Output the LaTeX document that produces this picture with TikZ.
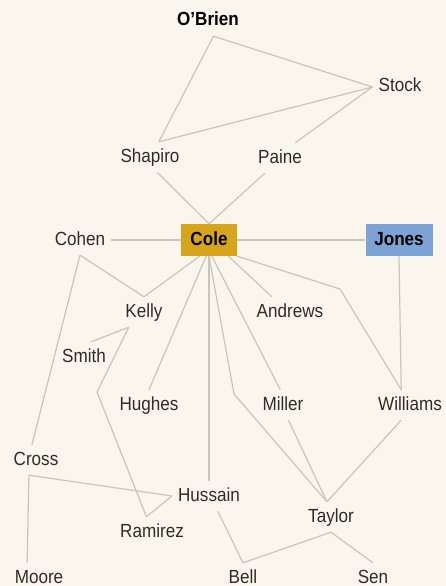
\documentclass[tikz,border=0pt]{standalone}
\usepackage{fontspec}
\setmainfont{Liberation Sans}[FakeStretch=0.9]
\definecolor{paper}{HTML}{FAF6EE}
\definecolor{wirecol}{HTML}{C9C5BC}
\definecolor{colegold}{HTML}{D6A51C}
\definecolor{jonesblue}{HTML}{7DA2D6}
\definecolor{ink}{HTML}{2E2C2A}

\begin{document}
\begin{tikzpicture}[x=1pt, y=-1pt,
        person/.style={inner sep=6pt, text height=14pt, text depth=4pt, font=\fontsize{19}{21}\selectfont, text=ink},
        lead/.style={person, font=\fontsize{19}{21}\selectfont\bfseries, text=black},
        chief/.style={lead, minimum height=32pt, inner sep=0pt},
        wire/.style={draw=wirecol, line width=1.2pt}
    ]
    \fill[paper] (0,0) rectangle (446,586);
    \useasboundingbox (0,0) rectangle (446,586);
    \node[lead] (obrien) at (208,21) {O'Brien};
    \node[person] (stock) at (400,87) {Stock};
    \node[person] (shapiro) at (150,157) {Shapiro};
    \node[person] (paine) at (280,158) {Paine};
    \node[chief, fill=colegold, minimum width=56pt] (cole) at (209,240) {Cole};
    \node[chief, fill=jonesblue, minimum width=67pt] (jones) at (399,240) {Jones};
    \node[person] (cohen) at (80,240) {Cohen};
    \node[person] (kelly) at (144,312) {Kelly};
    \node[person] (andrews) at (290,312) {Andrews};
    \node[person] (smith) at (84,357) {Smith};
    \node[person] (hughes) at (149,405) {Hughes};
    \node[person] (miller) at (283,405) {Miller};
    \node[person] (williams) at (410,405) {Williams};
    \node[person] (cross) at (36,460) {Cross};
    \node[person] (hussain) at (209,496) {Hussain};
    \node[person] (taylor) at (331,517) {Taylor};
    \node[person] (ramirez) at (152,532) {Ramirez};
    \node[person] (moore) at (39,578) {Moore};
    \node[person] (bell) at (243,578) {Bell};
    \node[person] (sen) at (373,578) {Sen};
    \coordinate (ramirezbend) at (97,392);
    \coordinate (taylorbend) at (234,394);
    \coordinate (williamsbend) at (340,289);
    \draw[wire] (obrien.-70) -- (shapiro.60);
    \draw[wire] (obrien.-70) -- (stock.west);
    \draw[wire] (shapiro.60) -- (stock.west);
    \draw[wire] (stock.west) -- (paine.45);
    \draw[wire] (shapiro.-65) -- (cole.north);
    \draw[wire] (paine.-135) -- (cole.north);
    \draw[wire] (cohen.east) -- (cole.west);
    \draw[wire] (cole.east) -- (jones.west);
    \draw[wire] (cohen.south) -- (kelly.north);
    \draw[wire] (cohen.south) -- (cross.105);
    \draw[wire] (cole.-120) -- (kelly.north);
    \draw[wire] (smith.65) -- (kelly.-135);
    \draw[wire] (kelly.-135) -- (ramirezbend) -- (ramirez.110);
    \draw[wire] (cole.-100) -- (hughes.north);
    \draw[wire] (cole.south) -- (hussain.north);
    \draw[wire] (cole.south) -- (taylorbend) -- (taylor.105);
    \draw[wire] (cole.-80) -- (miller.100);
    \draw[wire] (cole.-40) -- (andrews.140);
    \draw[wire] (cole.south east) -- (williamsbend) -- (williams.120);
    \draw[wire] (jones.south) -- (williams.120);
    \draw[wire] (miller.-70) -- (taylor.105);
    \draw[wire] (williams.-120) -- (taylor.105);
    \draw[wire] (cross.-115) -- (moore.128);
    \draw[wire] (cross.-115) -- (hussain.west);
    \draw[wire] (ramirez.110) -- (hussain.west);
    \draw[wire] (hussain.-60) -- (bell.north);
    \draw[wire] (bell.north) -- (taylor.south);
    \draw[wire] (taylor.south) -- (sen.north);
\end{tikzpicture}
\end{document}
